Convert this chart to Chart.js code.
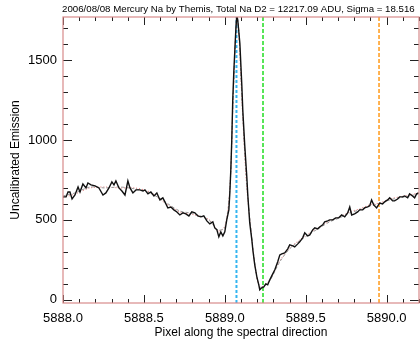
<!DOCTYPE html>
<html><head><meta charset="utf-8">
<script src="https://cdn.jsdelivr.net/npm/chart.js@4"></script>
<style>html,body{margin:0;padding:0;background:#fff}#wrap{width:420px;height:341px}</style>
</head><body><div id="wrap"><canvas id="c" width="420" height="341"></canvas></div>
<script>
const titleText = "2006/08/08 Mercury Na by Themis, Total Na D2 = 12217.09 ADU, Sigma = 18.516";
const xTitle = "Pixel along the spectral direction";
const yTitle = "Uncalibrated Emission";
const xTickValues = [5888.0, 5888.5, 5889.0, 5889.5, 5890.0];
const yTickValues = [0, 500, 1000, 1500];
const markerX = [5889.072, 5889.236, 5889.953];
const markerColors = ["#33b5f0", "#22dd22", "#ff9a1a"];

const wavelength = [5888.000,5888.019,5888.031,5888.043,5888.056,5888.074,5888.093,5888.105,5888.123,5888.142,5888.154,5888.173,5888.198,5888.222,5888.247,5888.265,5888.284,5888.302,5888.315,5888.327,5888.346,5888.364,5888.383,5888.401,5888.414,5888.432,5888.451,5888.475,5888.494,5888.506,5888.525,5888.543,5888.562,5888.580,5888.599,5888.617,5888.636,5888.648,5888.667,5888.685,5888.704,5888.722,5888.741,5888.759,5888.778,5888.796,5888.815,5888.833,5888.852,5888.870,5888.889,5888.907,5888.926,5888.938,5888.951,5888.963,5888.975,5888.988,5889.000,5889.012,5889.025,5889.031,5889.037,5889.043,5889.049,5889.056,5889.062,5889.068,5889.074,5889.080,5889.093,5889.105,5889.111,5889.123,5889.136,5889.142,5889.154,5889.167,5889.173,5889.185,5889.198,5889.210,5889.216,5889.228,5889.241,5889.253,5889.265,5889.278,5889.290,5889.309,5889.327,5889.340,5889.352,5889.370,5889.389,5889.401,5889.420,5889.432,5889.451,5889.463,5889.481,5889.494,5889.512,5889.525,5889.543,5889.556,5889.574,5889.586,5889.605,5889.617,5889.636,5889.648,5889.667,5889.685,5889.704,5889.722,5889.741,5889.759,5889.772,5889.784,5889.802,5889.821,5889.833,5889.852,5889.864,5889.883,5889.895,5889.907,5889.920,5889.938,5889.957,5889.975,5889.988,5890.006,5890.019,5890.037,5890.049,5890.068,5890.080,5890.099,5890.111,5890.130,5890.142,5890.160,5890.173,5890.185,5890.198];
const emission = [644,644,675,675,631,656,706,675,725,700,731,719,713,700,656,669,700,738,719,744,700,681,656,744,700,669,688,688,681,688,663,675,650,669,625,638,600,575,581,563,550,531,544,538,525,550,544,525,519,525,494,475,488,450,438,394,425,400,425,500,563,669,813,1000,1250,1438,1563,1688,1781,1750,1606,1344,1188,969,769,656,481,375,313,219,144,94,63,75,81,100,94,125,150,188,238,281,288,294,319,344,338,331,350,363,388,419,400,406,438,450,444,456,469,488,494,500,500,513,513,531,519,544,581,531,538,550,563,563,575,581,588,625,594,575,606,600,613,625,638,619,619,631,644,644,650,638,663,650,638,663,669];

const fitX = [5888.000,5888.074,5888.167,5888.259,5888.352,5888.444,5888.537,5888.630,5888.722,5888.815,5888.907,5888.957,5889.000,5889.031,5889.049,5889.068,5889.074,5889.086,5889.111,5889.136,5889.167,5889.191,5889.216,5889.247,5889.278,5889.340,5889.401,5889.463,5889.525,5889.586,5889.648,5889.710,5889.772,5889.833,5889.895,5889.957,5890.019,5890.080,5890.142,5890.198];
const fitGray = [650,669,706,700,706,694,669,613,556,538,494,438,450,688,1188,1688,1775,1688,1156,719,388,188,81,88,119,238,319,369,413,450,488,513,544,563,588,600,625,638,650,663];
const fitRed = [640,662,700,706,700,700,675,606,550,531,500,431,460,700,1200,1700,1770,1680,1140,700,380,180,78,92,125,244,325,375,419,456,494,519,550,569,594,606,631,644,656,669];

const FONT = "'Liberation Sans', Arial, sans-serif";
const AXIS_COLOR = "#d88a8a";

const framePlugin = {
  id: 'frame',
  afterDatasetsDraw(chart) {
    const {ctx, chartArea: a, scales} = chart;
    const xs = scales.x, ys = scales.y;
    ctx.save();
    ctx.strokeStyle = "#222";
    ctx.lineWidth = 1;
    ctx.beginPath();
    for (let i = 0; i <= 22; i++) {
      const v = 5888 + i * 0.1;
      const px = Math.round(xs.getPixelForValue(v)) + 0.5;
      const len = (i % 5 === 0) ? 8 : 4;
      ctx.moveTo(px, a.bottom); ctx.lineTo(px, a.bottom - len);
      ctx.moveTo(px, a.top); ctx.lineTo(px, a.top + len);
    }
    for (let i = 0; i <= 17; i++) {
      const v = i * 100;
      const py = Math.round(ys.getPixelForValue(v)) + 0.5;
      const len = (i % 5 === 0) ? 9 : 5;
      ctx.moveTo(a.left, py); ctx.lineTo(a.left + len, py);
      ctx.moveTo(a.right, py); ctx.lineTo(a.right - len, py);
    }
    ctx.stroke();
    ctx.strokeStyle = AXIS_COLOR;
    ctx.lineWidth = 1.2;
    ctx.strokeRect(a.left, a.top, a.right - a.left, a.bottom - a.top);
    ctx.fillStyle = "#000";
    ctx.font = "9.7px " + FONT;
    ctx.textBaseline = "alphabetic";
    ctx.textAlign = "left";
    ctx.fillText(titleText, 62, 12);
    ctx.restore();
  }
};

const markerSets = markerX.map((mx, i) => ({
  data: [{x: mx, y: -20}, {x: mx, y: 1770}],
  borderColor: markerColors[i],
  borderWidth: i === 0 ? 2 : 1.5,
  borderDash: i === 0 ? [3, 2] : [4, 2],
  pointRadius: 0,
  order: 5
}));

new Chart(document.getElementById('c'), {
  type: 'line',
  data: {
    datasets: [
      { data: wavelength.map((x, i) => ({x, y: emission[i]})), borderColor: "#111", borderWidth: 1.4, pointRadius: 0, tension: 0, order: 1 },
      { data: fitX.map((x, i) => ({x, y: fitGray[i]})), borderColor: "#9a9a9a", borderWidth: 1, borderDash: [3, 2], pointRadius: 0, tension: 0.3, order: 2 },
      { data: fitX.map((x, i) => ({x, y: fitRed[i]})), borderColor: "#e07070", borderWidth: 1, borderDash: [1, 2], pointRadius: 0, tension: 0.3, order: 3 },
      ...markerSets
    ]
  },
  options: {
    responsive: false,
    animation: false,
    layout: { padding: { top: 17, right: 1, left: 0, bottom: 0 } },
    plugins: { legend: { display: false }, tooltip: { enabled: false }, title: { display: false } },
    scales: {
      x: {
        type: 'linear', min: 5888.0, max: 5890.2,
        grid: { display: false, drawTicks: false },
        border: { display: false },
        afterBuildTicks: s => { s.ticks = xTickValues.map(v => ({value: v})); },
        afterFit: s => { s.height = 38; },
        ticks: { color: "#000", font: { family: FONT, size: 13 }, padding: 8, maxRotation: 0, autoSkip: false, callback: v => Number(v).toFixed(1) },
        title: { display: true, text: xTitle, color: "#000", font: { family: FONT, size: 12 }, padding: { top: 0, bottom: 1 } }
      },
      y: {
        type: 'linear', min: -20, max: 1770,
        grid: { display: false, drawTicks: false },
        border: { display: false },
        afterBuildTicks: s => { s.ticks = yTickValues.map(v => ({value: v})); },
        afterFit: s => { s.width = 63; },
        ticks: { color: "#000", font: { family: FONT, size: 13 }, padding: 6, autoSkip: false, callback: v => String(v) },
        title: { display: true, text: yTitle, color: "#000", font: { family: FONT, size: 12 }, padding: { top: 8, bottom: 0 } }
      }
    }
  },
  plugins: [framePlugin]
});
</script></body></html>
